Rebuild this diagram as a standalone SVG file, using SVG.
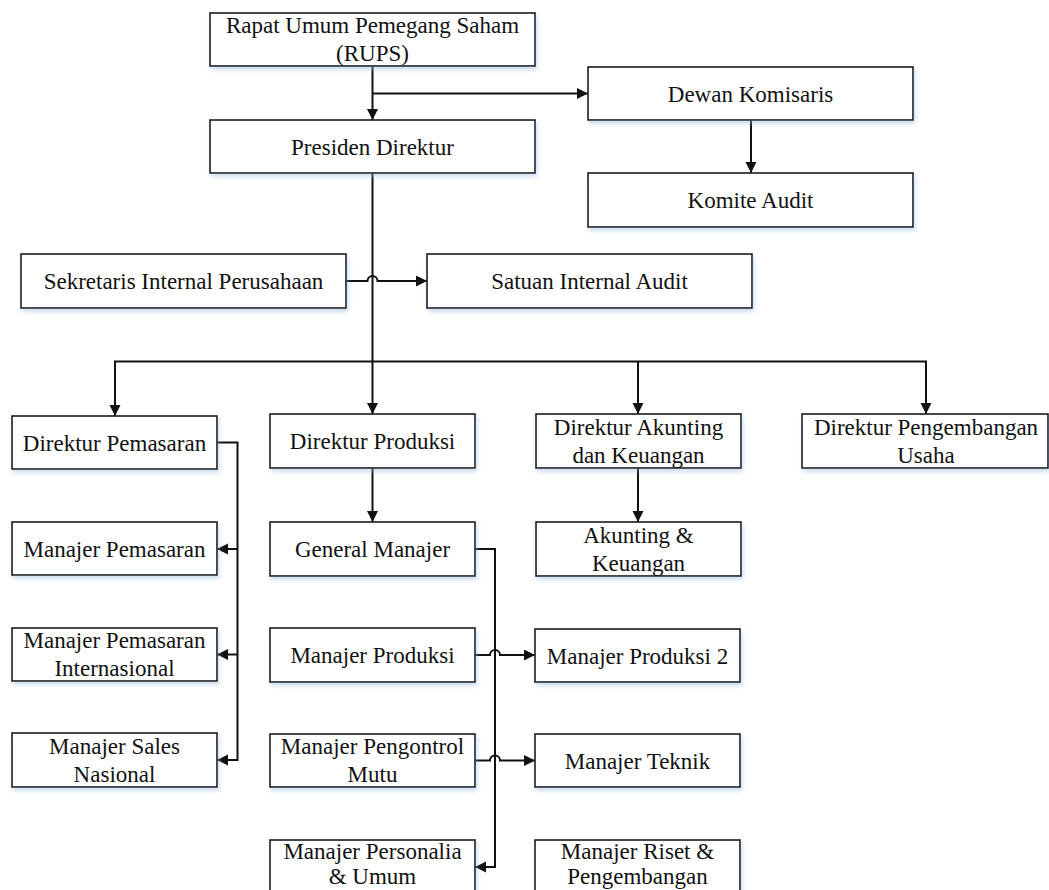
<svg xmlns="http://www.w3.org/2000/svg" width="1049" height="890" viewBox="0 0 1049 890">
<defs>
<style>
.box{fill:#fff;stroke:#1a1a1a;stroke-width:1.6;filter:url(#sh)}
.t{font-family:"Liberation Serif","Times New Roman",serif;font-size:23px;fill:#111;text-anchor:middle}
.c{fill:none;stroke:#111;stroke-width:2}
</style>
<filter id="sh" x="-10%" y="-20%" width="120%" height="150%">
<feDropShadow dx="1.5" dy="3" stdDeviation="2" flood-color="#8fb3dc" flood-opacity="0.45"/>
</filter>
<marker id="ar" markerUnits="userSpaceOnUse" markerWidth="12" markerHeight="12" refX="11" refY="5.5" orient="auto">
<path d="M0,0 L11,5.5 L0,11 z" fill="#111"/>
</marker>
</defs>
<rect width="1049" height="890" fill="#fff"/>

<g id="connectors">
<path class="c" d="M372.5,66 V120" marker-end="url(#ar)"/>
<path class="c" d="M372.5,93.5 H588" marker-end="url(#ar)"/>
<path class="c" d="M751,120 V173" marker-end="url(#ar)"/>
<path class="c" d="M372.5,173 V414" marker-end="url(#ar)"/>
<path class="c" d="M346,281 H367.5 A5,5 0 0 1 377.5,281 H427" marker-end="url(#ar)"/>
<path class="c" d="M372.5,361.5 H115 V416" marker-end="url(#ar)"/>
<path class="c" d="M372.5,361.5 H926 V414" marker-end="url(#ar)"/>
<path class="c" d="M638,361.5 V414" marker-end="url(#ar)"/>
<path class="c" d="M217,442.5 H237.5 V760 H217" marker-end="url(#ar)"/>
<path class="c" d="M237.5,549 H217" marker-end="url(#ar)"/>
<path class="c" d="M237.5,654.5 H217" marker-end="url(#ar)"/>
<path class="c" d="M372.5,468 V522" marker-end="url(#ar)"/>
<path class="c" d="M638,468 V522" marker-end="url(#ar)"/>
<path class="c" d="M475,549 H495 V867 H475" marker-end="url(#ar)"/>
<path class="c" d="M475,655 H490 A5,5 0 0 1 500,655 H535" marker-end="url(#ar)"/>
<path class="c" d="M475,760.5 H490 A5,5 0 0 1 500,760.5 H535" marker-end="url(#ar)"/>
</g>

<g id="rups"><rect class="box" x="210" y="13" width="325" height="53"/><text class="t" x="372.5" y="33">Rapat Umum Pemegang Saham</text><text class="t" x="372.5" y="61">(RUPS)</text></g>
<g id="dewan"><rect class="box" x="588" y="67" width="325" height="53"/><text class="t" x="750.5" y="101.5">Dewan Komisaris</text></g>
<g id="presiden"><rect class="box" x="210" y="120" width="325" height="53"/><text class="t" x="372.5" y="154.5">Presiden Direktur</text></g>
<g id="komite"><rect class="box" x="588" y="173" width="325" height="54"/><text class="t" x="750.5" y="208">Komite Audit</text></g>
<g id="sekretaris"><rect class="box" x="21" y="254" width="325" height="54"/><text class="t" x="183.5" y="289">Sekretaris Internal Perusahaan</text></g>
<g id="satuan"><rect class="box" x="427" y="254" width="325" height="54"/><text class="t" x="589.5" y="289">Satuan Internal Audit</text></g>
<g id="dir-pemasaran"><rect class="box" x="12" y="416" width="205" height="53"/><text class="t" x="114.5" y="450.5">Direktur Pemasaran</text></g>
<g id="dir-produksi"><rect class="box" x="270" y="414" width="205" height="54"/><text class="t" x="372.5" y="449">Direktur Produksi</text></g>
<g id="dir-akunting"><rect class="box" x="536" y="414" width="205" height="54"/><text class="t" x="638.5" y="434.5">Direktur Akunting</text><text class="t" x="638.5" y="462.5">dan Keuangan</text></g>
<g id="dir-pengembangan"><rect class="box" x="802" y="414" width="246" height="54"/><text class="t" x="926" y="434.5">Direktur Pengembangan</text><text class="t" x="926" y="462.5">Usaha</text></g>
<g id="man-pemasaran"><rect class="box" x="12" y="522" width="205" height="53"/><text class="t" x="114.5" y="556.5">Manajer Pemasaran</text></g>
<g id="general-manajer"><rect class="box" x="270" y="522" width="205" height="54"/><text class="t" x="372.5" y="557">General Manajer</text></g>
<g id="akunting-keuangan"><rect class="box" x="536" y="522" width="205" height="54"/><text class="t" x="638.5" y="542.5">Akunting &amp;</text><text class="t" x="638.5" y="570.5">Keuangan</text></g>
<g id="man-pemasaran-int"><rect class="box" x="12" y="628" width="205" height="53"/><text class="t" x="114.5" y="648">Manajer Pemasaran</text><text class="t" x="114.5" y="676">Internasional</text></g>
<g id="man-produksi"><rect class="box" x="270" y="628" width="205" height="54"/><text class="t" x="372.5" y="663">Manajer Produksi</text></g>
<g id="man-produksi-2"><rect class="box" x="535" y="629" width="205" height="53"/><text class="t" x="637.5" y="663.5">Manajer Produksi 2</text></g>
<g id="man-sales"><rect class="box" x="12" y="733" width="205" height="54"/><text class="t" x="114.5" y="753.5">Manajer Sales</text><text class="t" x="114.5" y="781.5">Nasional</text></g>
<g id="man-mutu"><rect class="box" x="270" y="734" width="205" height="53"/><text class="t" x="372.5" y="754">Manajer Pengontrol</text><text class="t" x="372.5" y="782">Mutu</text></g>
<g id="man-teknik"><rect class="box" x="535" y="734" width="205" height="53"/><text class="t" x="637.5" y="768.5">Manajer Teknik</text></g>
<g id="man-personalia"><rect class="box" x="270" y="840" width="205" height="54"/><text class="t" x="372.5" y="859">Manajer Personalia</text><text class="t" x="372.5" y="884">&amp; Umum</text></g>
<g id="man-riset"><rect class="box" x="535" y="840" width="205" height="54"/><text class="t" x="637.5" y="859">Manajer Riset &amp;</text><text class="t" x="637.5" y="884">Pengembangan</text></g>
</svg>
